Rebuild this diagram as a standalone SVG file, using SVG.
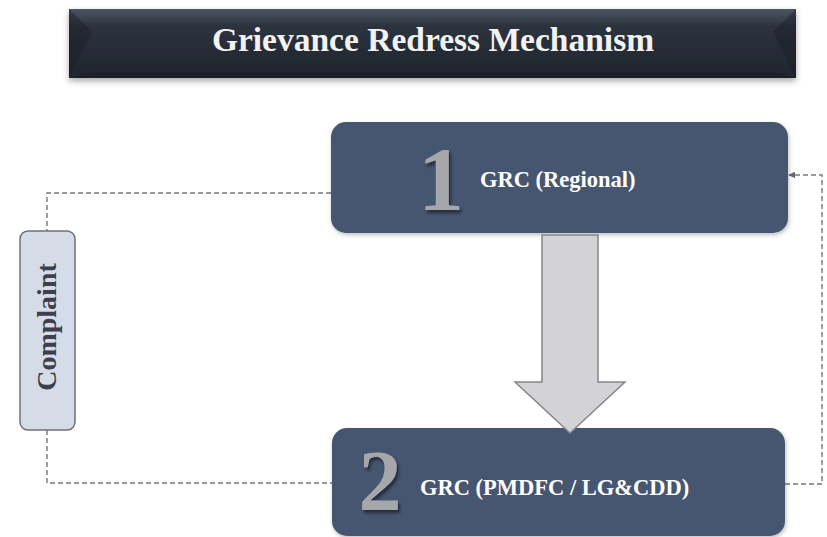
<svg xmlns="http://www.w3.org/2000/svg" width="827" height="537" viewBox="0 0 827 537">
<defs>
<style>
.serif{font-family:"Liberation Serif","Times New Roman",serif;font-weight:bold}
.lbl{fill:#ffffff;font-size:22.5px}
.digit{fill:#a6a7ab;filter:url(#dshadow)}
.box{fill:#465670;filter:url(#bshadow)}
.conn{fill:none;stroke:#767880;stroke-width:1.4;stroke-dasharray:5 3}
</style>
<linearGradient id="titleG" x1="0" y1="0" x2="0" y2="1">
<stop offset="0" stop-color="#4d5562"/>
<stop offset="0.25" stop-color="#2c323d"/>
<stop offset="1" stop-color="#20252e"/>
</linearGradient>
<linearGradient id="digitG" x1="0" y1="0" x2="0" y2="1">
<stop offset="0" stop-color="#b4b5b9"/>
<stop offset="1" stop-color="#96979b"/>
</linearGradient>
<filter id="dshadow" x="-20%" y="-20%" width="140%" height="140%">
<feDropShadow dx="2" dy="3" stdDeviation="1.5" flood-color="#1c2433" flood-opacity="0.8"/>
</filter>
<filter id="bshadow" x="-5%" y="-5%" width="110%" height="115%">
<feDropShadow dx="1" dy="2" stdDeviation="2" flood-color="#000" flood-opacity="0.25"/>
</filter>
<filter id="tshadow" x="-5%" y="-20%" width="110%" height="150%">
<feDropShadow dx="0" dy="3" stdDeviation="3" flood-color="#000" flood-opacity="0.35"/>
</filter>
<marker id="arr" viewBox="0 0 10 10" refX="9" refY="5" markerWidth="7" markerHeight="7" orient="auto" markerUnits="userSpaceOnUse">
<path d="M0,0 L10,5 L0,10 z" fill="#666870"/>
</marker>
</defs>
<rect width="827" height="537" fill="#ffffff"/>

<g id="title">
<rect x="69" y="9" width="727" height="69" fill="url(#titleG)" filter="url(#tshadow)"/>
<polygon points="69,9 92,32 69,78" fill="#181c23" opacity="0.4"/>
<polygon points="796,9 773,32 796,78" fill="#181c23" opacity="0.4"/>
<polygon points="69,78 796,78 773,72 92,72" fill="#14181e" opacity="0.35"/>
<text class="serif" x="433" y="51" text-anchor="middle" font-size="33.5" fill="#f2f2f2">Grievance Redress Mechanism</text>
</g>

<g id="connectors">
<polyline class="conn" points="331,193 47,193 47,231"/>
<polyline class="conn" points="47,430 47,483 332,483"/>
<polyline class="conn" points="785,484 822,484 822,175 789,175" marker-end="url(#arr)"/>
</g>

<g id="grc-regional">
<rect class="box" x="331" y="122" width="457" height="111" rx="15"/>
<text class="serif digit" x="441" y="210" text-anchor="middle" font-size="92" fill="url(#digitG)">1</text>
<text class="serif lbl" x="480" y="187">GRC (Regional)</text>
</g>

<g id="grc-pmdfc">
<rect class="box" x="332" y="428" width="453" height="108" rx="15"/>
<text class="serif digit" x="380" y="510" text-anchor="middle" font-size="86" fill="url(#digitG)">2</text>
<text class="serif lbl" x="420" y="495">GRC (PMDFC / LG&amp;CDD)</text>
</g>

<g id="flow-arrow">
<polygon points="542,235 598,235 598,382 625,382 570,433 515,382 542,382" fill="#d3d3d6" stroke="#85868b" stroke-width="1.5" stroke-linejoin="miter"/>
</g>

<g id="complaint">
<rect x="20" y="231" width="55" height="199" rx="8" fill="#d6dce7" stroke="#6c707a" stroke-width="1.5"/>
<text class="serif" transform="translate(56,327) rotate(-90)" text-anchor="middle" font-size="28" fill="#3b404c">Complaint</text>
</g>
</svg>
